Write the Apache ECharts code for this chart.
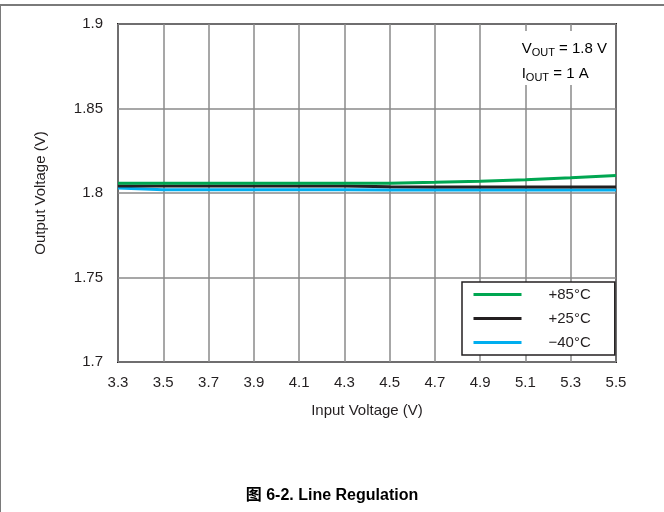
<!DOCTYPE html>
<html>
<head>
<meta charset="utf-8">
<script src="https://cdn.jsdelivr.net/npm/echarts@6/dist/echarts.min.js"></script>
<style>
  html, body { margin: 0; padding: 0; background: #fff; }
  #wrap { position: relative; width: 664px; height: 512px; }
  #chart { width: 664px; height: 512px; }
  #frame {
    position: absolute; left: 0; top: 4px; right: 0; bottom: 0;
    border-top: 2px solid #7a7a7a; border-left: 1px solid #7a7a7a;
    pointer-events: none;
  }
</style>
</head>
<body>
<div id="wrap">
  <div id="chart"></div>
  <div id="frame"></div>
</div>
<script>
// input voltage (V)
const inputVoltage = ['3.3', '3.5', '3.7', '3.9', '4.1', '4.3', '4.5', '4.7', '4.9', '5.1', '5.3', '5.5']
// output voltage (V) per temperature
const temp85 = [1.8057, 1.8057, 1.8057, 1.8057, 1.8057, 1.8057, 1.8058, 1.8063, 1.8069, 1.8078, 1.8090, 1.8103]
const temp25 = [1.8042, 1.8042, 1.8042, 1.8042, 1.8042, 1.8041, 1.8037, 1.8036, 1.8036, 1.8036, 1.8036, 1.8036]
const tempM40 = [1.8030, 1.8019, 1.8019, 1.8019, 1.8019, 1.8019, 1.8018, 1.8018, 1.8018, 1.8018, 1.8018, 1.8018]
const seriesNames = ['+85°C', '+25°C', '\u221240°C']
const seriesColors = ['#00a651', '#231f20', '#00aeef']

const font = '"Liberation Sans", Arial, "Noto Sans CJK SC", sans-serif'
const chart = echarts.init(document.getElementById('chart'))

const makeLine = (name, data, color) => ({
  name,
  type: 'line',
  data,
  symbol: 'none',
  lineStyle: { width: 3, color },
  itemStyle: { color },
  animation: false,
})

chart.setOption({
  backgroundColor: '#fff',
  textStyle: { fontFamily: font },
  grid: {
    left: 118, right: 48, top: 24, bottom: 150,
    show: true, borderColor: '#231f20', borderWidth: 2,
  },
  title: {
    text: '图 6-2. Line Regulation',
    left: 'center',
    top: 483,
    textStyle: { fontFamily: font, fontSize: 16, fontWeight: 'bold', color: '#000' },
  },
  legend: {
    orient: 'vertical',
    left: 462,
    top: 282,
    padding: [5, 24, 5, 10],
    itemWidth: 48,
    itemHeight: 14,
    itemGap: 9,
    borderColor: '#231f20',
    borderWidth: 1.5,
    backgroundColor: '#fff',
    data: seriesNames,
    itemStyle: { opacity: 0 },
    lineStyle: { width: 3 },
    textStyle: { fontFamily: font, fontSize: 15, color: '#231f20', padding: [0, 0, 0, 22] },
  },
  xAxis: {
    type: 'category',
    boundaryGap: false,
    data: inputVoltage,
    name: 'Input Voltage (V)',
    nameLocation: 'middle',
    nameGap: 41,
    nameTextStyle: { fontFamily: font, fontSize: 15, color: '#231f20' },
    axisLine: { show: false },
    axisTick: { show: false },
    axisLabel: { fontFamily: font, fontSize: 15, color: '#231f20', margin: 13 },
    splitLine: { show: true, lineStyle: { color: '#8a8a8a', width: 1.5 } },
  },
  yAxis: {
    type: 'value',
    min: 1.7,
    max: 1.9,
    interval: 0.05,
    name: 'Output Voltage (V)',
    nameLocation: 'middle',
    nameGap: 70,
    nameTextStyle: { fontFamily: font, fontSize: 15, color: '#231f20' },
    axisLine: { show: false },
    axisTick: { show: false },
    axisLabel: { fontFamily: font, fontSize: 15, color: '#231f20', margin: 15 },
    splitLine: { show: true, lineStyle: { color: '#8a8a8a', width: 1.5 } },
  },
  graphic: [
    {
      // white box behind the conditions note
      type: 'rect',
      shape: { x: 482, y: 31, width: 132, height: 54 },
      style: { fill: '#fff' },
      z: 5,
    },
    {
      type: 'text',
      right: 57,
      top: 40,
      z: 6,
      style: {
        text: '{a|V}{s|OUT}{a| = 1.8 V}\n{a|I}{s|OUT}{a| = 1 A}',
        align: 'right',
        rich: {
          a: { fontFamily: font, fontSize: 15, color: '#231f20', lineHeight: 25 },
          s: { fontFamily: font, fontSize: 11, color: '#231f20', lineHeight: 25, padding: [7, 0, 0, 0] },
        },
      },
    },
  ],
  series: [
    makeLine(seriesNames[2], tempM40, seriesColors[2]),
    makeLine(seriesNames[1], temp25, seriesColors[1]),
    makeLine(seriesNames[0], temp85, seriesColors[0]),
  ],
})
</script>
</body>
</html>
